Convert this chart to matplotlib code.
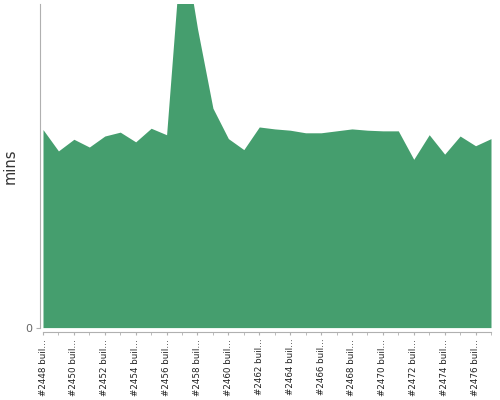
import numpy as np
import matplotlib
matplotlib.use("Agg")
import matplotlib.pyplot as plt

# build numbers and durations (mins)
builds = list(range(2448, 2478))
durations = [30.6, 27.3, 29.1, 27.9, 29.6, 30.2, 28.7, 30.8, 29.8, 60.7,
             46.2, 33.9, 29.2, 27.5, 31.0, 30.7, 30.5, 30.1, 30.1, 30.4,
             30.7, 30.5, 30.4, 30.4, 26.0, 29.8, 26.8, 29.6, 28.1, 29.2]
tick_labels = ["#%d buil\u2026" % b for b in builds]
y_max = 50

fill_color = "#459e6e"
axis_color = "#b0b0b0"

fig = plt.figure(figsize=(5, 4), dpi=100)
ax = fig.add_axes([0.086, 0.181, 0.896, 0.809])

x = np.arange(len(builds))
ax.fill_between(x, 0, durations, color=fill_color, linewidth=0)

ax.set_xlim(0, len(builds) - 1)
ax.set_ylim(0, y_max)

ax.set_xticks(x, minor=True)
ax.set_xticks(x[::2])
ax.set_xticklabels(tick_labels[::2])
ax.set_yticks([0])
ax.set_yticklabels(["0"])
ax.set_ylabel("mins", fontsize=10.5, color="#333333")
ax.yaxis.set_label_coords(-0.056, 0.5)

for side in ["top", "right"]:
    ax.spines[side].set_visible(False)
ax.spines["left"].set_position(("outward", 2.5))
ax.spines["bottom"].set_position(("outward", 3.5))
ax.spines["left"].set_color(axis_color)
ax.spines["bottom"].set_color(axis_color)
ax.tick_params(axis="x", which="both", length=2.5, color=axis_color, pad=2)
ax.tick_params(axis="x", which="major", labelrotation=90, labelsize=6.3,
               labelcolor="#222222")
ax.tick_params(axis="y", length=3, color=axis_color, pad=2, labelsize=8,
               labelcolor="#666666")

fig.savefig("out.png", dpi=100)
